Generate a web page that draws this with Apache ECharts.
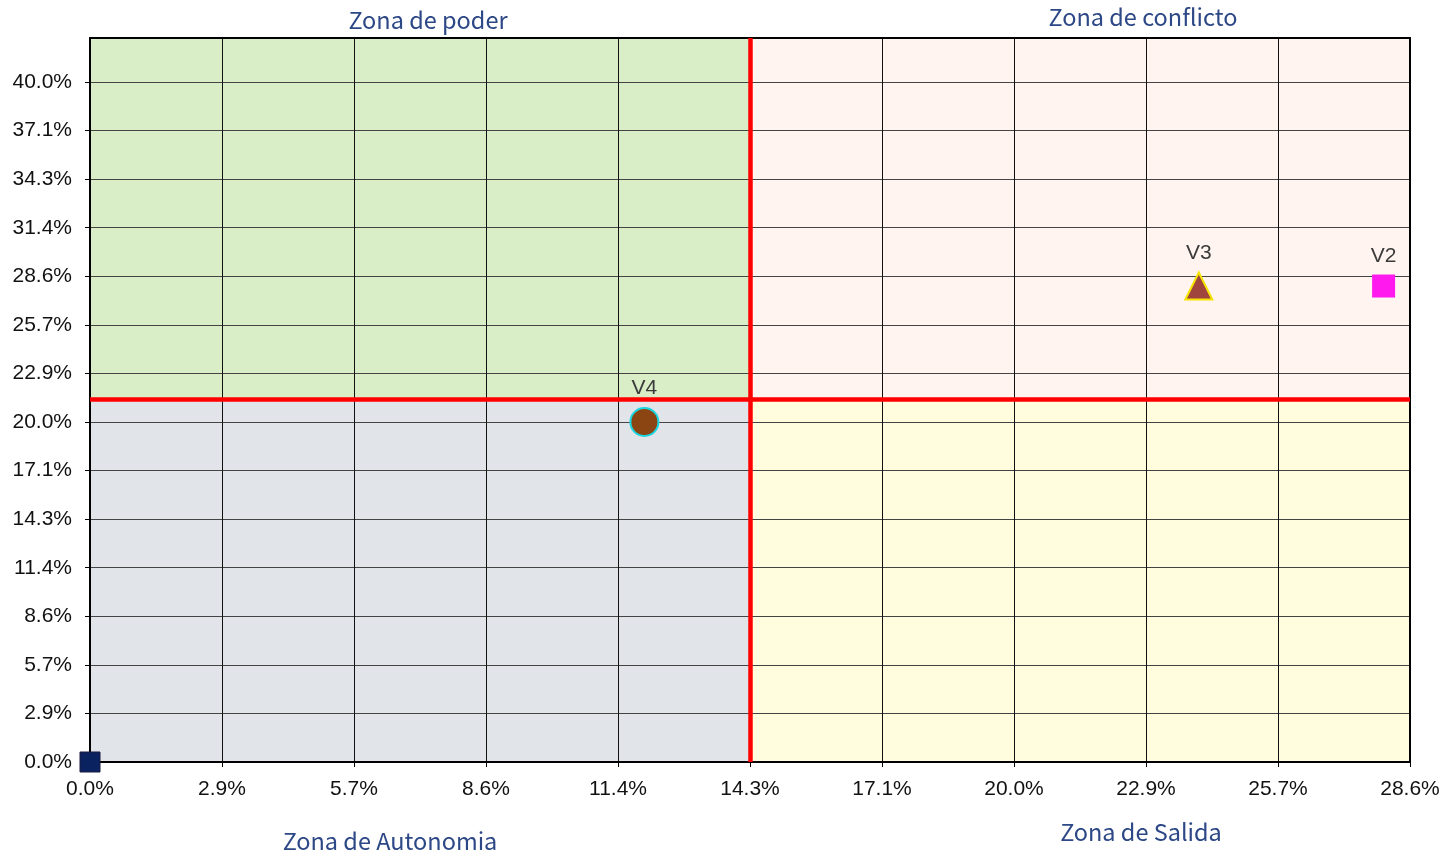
<!DOCTYPE html>
<html>
<head>
<meta charset="utf-8">
<script src="https://cdn.jsdelivr.net/npm/echarts@6/dist/echarts.min.js"></script>
<style>
html,body{margin:0;padding:0;background:#fff;}
#chart{width:1445px;height:857px;}
</style>
</head>
<body>
<div id="chart"></div>
<script>
// ---- data ----
const pointNames = ['V1', 'V2', 'V3', 'V4'];
const xValues = [0.0, 0.28, 0.24, 0.12];
const yValues = [0.0, 0.28, 0.28, 0.20];
const showLabel = [false, true, true, true];
const xTickLabels = ['0.0%','2.9%','5.7%','8.6%','11.4%','14.3%','17.1%','20.0%','22.9%','25.7%','28.6%'];
const yTickLabels = ['0.0%','2.9%','5.7%','8.6%','11.4%','14.3%','17.1%','20.0%','22.9%','25.7%','28.6%','31.4%','34.3%','37.1%','40.0%'];
const zoneNames = ['Zona de poder', 'Zona de conflicto', 'Zona de Autonomia', 'Zona de Salida'];
const xThreshold = 0.1429;
const yThreshold = 0.2135;
const xMin = 0, xMax = 10 / 35, yMin = 0, yMax = 0.4259;
const tickStep = 1 / 35;

// ---- styles ----
const pointStyles = {
  V1: {symbol: 'rect', size: 20, color: '#0b2260', border: '#1a1a40', bw: 1},
  V2: {symbol: 'rect', size: 23, color: '#ff19ee', border: '#ff19ee', bw: 0},
  V3: {symbol: 'triangle', size: 27, color: '#a0443e', border: '#f5e400', bw: 2},
  V4: {symbol: 'circle', size: 28, color: '#8b4513', border: '#19d7e0', bw: 2}
};
const zoneColors = ['#d9edc7', '#fff4ef', '#e1e4e9', '#fffddd'];
const zoneFont = '23.5px "Noto Sans CJK JP", sans-serif';
const zoneColor = '#2d4886';

function tickFmt(labels) {
  return function (v) {
    const k = Math.round(v / tickStep);
    if (Math.abs(v - k * tickStep) > 1e-6) return '';
    return labels[k] !== undefined ? labels[k] : '';
  };
}

const scatterData = pointNames.map((n, i) => {
  const s = pointStyles[n];
  return {
    name: n,
    value: [xValues[i], yValues[i]],
    symbol: s.symbol,
    symbolSize: s.size,
    itemStyle: {color: s.color, borderColor: s.border, borderWidth: s.bw, opacity: 1},
    label: {show: showLabel[i]}
  };
});

const axisLabelFont = {fontFamily: 'Liberation Sans, Arial, sans-serif', fontSize: 21, color: '#111'};

const option = {
  backgroundColor: '#ffffff',
  animation: false,
  grid: {left: 90, right: 35, top: 38, bottom: 95, containLabel: false},
  xAxis: [{
    type: 'value', min: xMin, max: xMax, interval: tickStep, z: 3,
    axisLine: {show: true, onZero: false, lineStyle: {color: '#000', width: 2}},
    axisTick: {show: true, length: 5, lineStyle: {color: '#000'}},
    axisLabel: Object.assign({margin: 17, formatter: tickFmt(xTickLabels), showMaxLabel: true}, axisLabelFont),
    splitLine: {show: true, lineStyle: {color: '#111', width: 1}}
  }, {
    type: 'value', position: 'top', min: xMin, max: xMax, z: 3,
    axisLine: {show: true, onZero: false, lineStyle: {color: '#000', width: 2}},
    axisTick: {show: false}, axisLabel: {show: false}, splitLine: {show: false}
  }],
  yAxis: [{
    type: 'value', min: yMin, max: yMax, interval: tickStep, z: 3,
    axisLine: {show: true, onZero: false, lineStyle: {color: '#000', width: 2}},
    axisTick: {show: true, length: 5, lineStyle: {color: '#000'}},
    axisLabel: Object.assign({margin: 18, formatter: tickFmt(yTickLabels), showMaxLabel: false}, axisLabelFont),
    splitLine: {show: true, lineStyle: {color: '#444', width: 1}}
  }, {
    type: 'value', position: 'right', min: yMin, max: yMax, z: 3,
    axisLine: {show: true, onZero: false, lineStyle: {color: '#000', width: 2}},
    axisTick: {show: false}, axisLabel: {show: false}, splitLine: {show: false}
  }],
  series: [{
    type: 'scatter', name: 'zones', data: [], z: 1, silent: true,
    markArea: {
      silent: true,
      label: {show: false},
      data: [
        [{xAxis: xMin, yAxis: yThreshold, itemStyle: {color: zoneColors[0], opacity: 1}}, {xAxis: xThreshold, yAxis: yMax}],
        [{xAxis: xThreshold, yAxis: yThreshold, itemStyle: {color: zoneColors[1], opacity: 1}}, {xAxis: xMax, yAxis: yMax}],
        [{xAxis: xMin, yAxis: yMin, itemStyle: {color: zoneColors[2], opacity: 1}}, {xAxis: xThreshold, yAxis: yThreshold}],
        [{xAxis: xThreshold, yAxis: yMin, itemStyle: {color: zoneColors[3], opacity: 1}}, {xAxis: xMax, yAxis: yThreshold}]
      ]
    }
  }, {
    type: 'scatter', name: 'limits', data: [], z: 5, silent: true,
    markLine: {
      silent: true, symbol: ['none', 'none'], animation: false, precision: 6,
      label: {show: false},
      lineStyle: {color: '#ff0000', width: 4.5, type: 'solid', opacity: 1},
      data: [{xAxis: xThreshold}, {yAxis: yThreshold}]
    }
  }, {
    type: 'scatter', name: 'points', z: 10, clip: false,
    data: scatterData,
    itemStyle: {opacity: 1},
    label: {
      position: 'top', distance: 8,
      formatter: '{b}',
      fontFamily: 'Liberation Sans, Arial, sans-serif', fontSize: 21, color: '#3a3a3a'
    }
  }],
  graphic: [
    {type: 'text', x: 428, y: 20, style: {text: zoneNames[0], align: 'center', verticalAlign: 'middle', fill: zoneColor, font: zoneFont}},
    {type: 'text', x: 1143, y: 17, style: {text: zoneNames[1], align: 'center', verticalAlign: 'middle', fill: zoneColor, font: zoneFont}},
    {type: 'text', x: 390, y: 841, style: {text: zoneNames[2], align: 'center', verticalAlign: 'middle', fill: zoneColor, font: zoneFont}},
    {type: 'text', x: 1141, y: 832, style: {text: zoneNames[3], align: 'center', verticalAlign: 'middle', fill: zoneColor, font: zoneFont}}
  ]
};

const chart = echarts.init(document.getElementById('chart'), null, {renderer: 'canvas'});
chart.setOption(option);
</script>
</body>
</html>
